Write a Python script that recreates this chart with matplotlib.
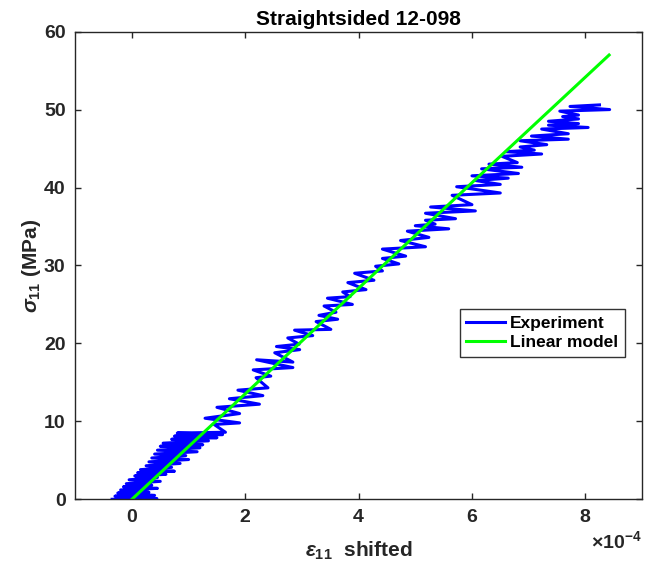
import matplotlib
matplotlib.use("Agg")
import matplotlib.pyplot as plt
import numpy as np

# ---------------------------------------------------------------------------
# Data (strain in units of 1e-4, stress in MPa)
# ---------------------------------------------------------------------------
exp_strain_e4 = [
    -0.35, 0.44, -0.30, 0.40, -0.25, 0.30, -0.20, 0.45, -0.15, 0.35,
    -0.10, 0.50, -0.05, 0.45, 0.05, 0.60, 0.10, 0.75, 0.15, 0.70,
    0.25, 0.85, 0.30, 1.00, 0.35, 0.95, 0.40, 1.15, 0.45, 1.20,
    0.50, 1.25, 0.55, 1.35, 0.70, 1.50, 0.75, 1.60, 0.80, 1.65,
    1.45, 1.90, 1.29, 1.90, 1.50, 2.25, 1.72, 2.31, 1.87, 2.40,
    2.19, 2.45, 2.14, 2.84, 2.20, 2.84, 2.52, 2.96, 2.55, 2.95,
    2.75, 3.19, 2.87, 3.51, 3.25, 3.63, 3.30, 3.60, 3.39, 3.89,
    3.45, 3.85, 3.72, 4.13, 3.81, 4.27, 3.93, 4.42, 4.30, 4.71,
    4.42, 4.83, 4.42, 5.18, 4.74, 5.24, 4.86, 5.59, 5.00, 5.35,
    5.18, 5.71, 5.18, 6.06, 5.27, 6.00, 5.65, 6.50, 5.73, 6.50,
    6.06, 6.64, 6.00, 6.82, 6.17, 6.88, 6.30, 6.80, 6.53, 7.23,
    6.60, 7.10, 6.85, 7.32, 6.85, 7.70, 7.05, 7.70, 7.23, 8.05,
    7.35, 7.88, 7.35, 7.88, 7.60, 7.88, 7.55, 8.43, 7.73, 8.25,
]
exp_stress = [
    0.0, 0.1, 0.4, 0.5, 0.8, 0.9, 1.2, 1.4, 1.6, 1.8,
    2.0, 2.3, 2.5, 2.8, 3.0, 3.2, 3.4, 3.6, 3.8, 4.1,
    4.3, 4.6, 4.8, 5.1, 5.3, 5.6, 5.8, 6.1, 6.3, 6.6,
    6.8, 7.0, 7.2, 7.5, 7.7, 7.9, 8.1, 8.3, 8.5, 8.6,
    9.6, 9.8, 10.4, 11.0, 11.8, 12.2, 12.9, 13.3, 14.0, 14.3,
    15.6, 15.8, 16.6, 16.9, 17.9, 17.6, 18.8, 19.2, 19.6, 19.9,
    20.7, 21.0, 21.7, 21.8, 22.8, 23.1, 23.6, 24.0, 24.8, 25.0,
    25.8, 26.0, 26.6, 26.9, 27.8, 28.1, 29.0, 29.3, 29.9, 30.2,
    30.9, 31.2, 32.1, 32.4, 33.2, 33.6, 34.4, 34.7, 35.1, 35.3,
    35.8, 36.0, 36.7, 37.0, 37.5, 37.8, 39.0, 39.3, 40.1, 40.4,
    40.9, 41.2, 41.5, 41.8, 42.4, 42.6, 43.0, 43.2, 44.0, 44.3,
    44.6, 44.8, 45.2, 45.5, 46.0, 46.2, 46.6, 46.9, 47.5, 47.7,
    48.0, 48.2, 48.5, 48.8, 49.1, 49.3, 49.8, 50.0, 50.4, 50.6,
]

model_strain_e4 = [0.0, 8.42]
model_stress = [0.0, 57.0]

exp_strain = np.array(exp_strain_e4) * 1e-4
model_strain = np.array(model_strain_e4) * 1e-4

# ---------------------------------------------------------------------------
# Plot (MATLAB-like look)
# ---------------------------------------------------------------------------
plt.rcParams["font.family"] = ["Liberation Sans", "DejaVu Sans"]
plt.rcParams["font.weight"] = "bold"
plt.rcParams["mathtext.fontset"] = "custom"
plt.rcParams["mathtext.rm"] = "Liberation Sans:bold"
plt.rcParams["mathtext.it"] = "Liberation Sans:italic:bold"
plt.rcParams["mathtext.bf"] = "Liberation Sans:bold"

axis_col = "#262626"

fig = plt.figure(figsize=(6.45, 5.71), dpi=100)
ax = fig.add_axes([0.1167, 0.1256, 0.8786, 0.819])

ax.plot(exp_strain, exp_stress, color=(0, 0, 1), lw=2.2, label="Experiment")
ax.plot(model_strain, model_stress, color=(0, 1, 0), lw=2.2, label="Linear model")

ax.set_xlim(-1e-4, 9e-4)
ax.set_ylim(0, 60)
ax.set_xticks(np.arange(0, 9e-4, 2e-4))
ax.set_yticks(np.arange(0, 61, 10))
ax.ticklabel_format(axis="x", style="sci", scilimits=(0, 0), useMathText=True)

ax.tick_params(direction="in", length=4, width=1, top=True, right=True,
               labelsize=14, colors=axis_col, pad=7)
for lab in ax.get_xticklabels() + ax.get_yticklabels():
    lab.set_fontweight("bold")
ax.xaxis.get_offset_text().set_fontsize(14)
ax.xaxis.get_offset_text().set_color(axis_col)
for sp in ax.spines.values():
    sp.set_color(axis_col)
    sp.set_linewidth(1.0)

ax.set_title("Straightsided 12-098", fontsize=15, fontweight="bold", pad=5)
ax.set_xlabel(r"$\epsilon_{11}$  shifted", fontsize=15, fontweight="bold",
              color=axis_col, labelpad=10)
ax.set_ylabel(r"$\sigma_{11}$ (MPa)", fontsize=15, fontweight="bold",
              color=axis_col, labelpad=1)

leg = ax.legend(loc="lower right", bbox_to_anchor=(0.97, 0.304), fontsize=12.5,
                frameon=True, fancybox=False, edgecolor="black",
                handlelength=2.2, borderpad=0.4, labelspacing=0.25,
                handletextpad=0.3, borderaxespad=0)
leg.get_frame().set_linewidth(1.0)
for t in leg.get_texts():
    t.set_fontweight("bold")

fig.savefig("out.png", dpi=100)
